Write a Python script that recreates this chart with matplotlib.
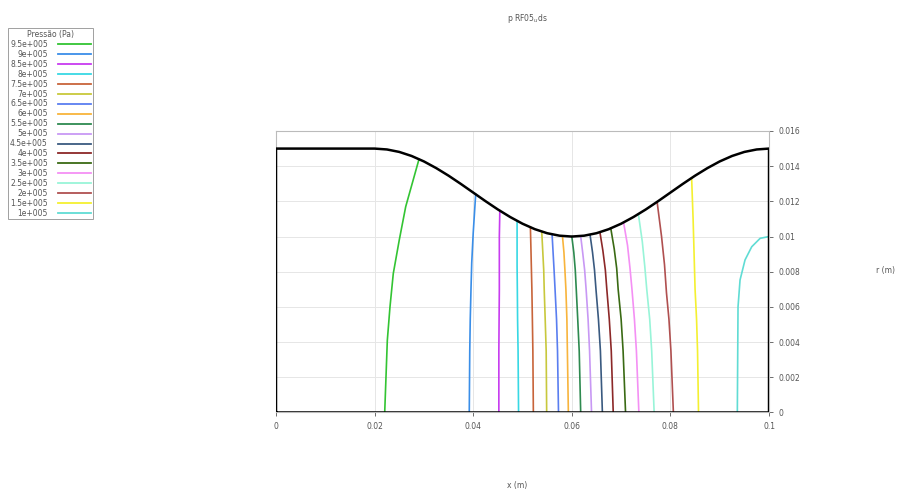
import matplotlib
matplotlib.use("Agg")
import matplotlib.pyplot as plt
from matplotlib.lines import Line2D

# parede do bocal (r em funcao de x)
wall_x = [0.0, 0.02, 0.0225, 0.025, 0.0275, 0.03, 0.0325, 0.035, 0.0375, 0.04,
          0.0425, 0.045, 0.0475, 0.05, 0.0525, 0.055, 0.0575, 0.06,
          0.0625, 0.065, 0.0675, 0.07, 0.0725, 0.075, 0.0775, 0.08,
          0.0825, 0.085, 0.0875, 0.09, 0.0925, 0.095, 0.0975, 0.1]
wall_r = [0.0150, 0.0150, 0.01495, 0.01481, 0.01458, 0.01427, 0.01389, 0.01346, 0.01299, 0.0125,
          0.01201, 0.01154, 0.01111, 0.01073, 0.01042, 0.01019, 0.01005, 0.0100,
          0.01005, 0.01019, 0.01042, 0.01073, 0.01111, 0.01154, 0.01201, 0.0125,
          0.01299, 0.01346, 0.01389, 0.01427, 0.01458, 0.01481, 0.01495, 0.0150]

labels = ["9.5e+005", "9e+005", "8.5e+005", "8e+005", "7.5e+005", "7e+005", "6.5e+005",
          "6e+005", "5.5e+005", "5e+005", "4.5e+005", "4e+005", "3.5e+005", "3e+005",
          "2.5e+005", "2e+005", "1.5e+005", "1e+005"]
colors = ["#33c433", "#3a8ee8", "#c83cf0", "#38d8e4", "#c8643a", "#c8c83c", "#5a7ef0",
          "#f8b43c", "#2e8a50", "#c898f4", "#3a5a80", "#8c2828", "#3a6a14", "#f490f4",
          "#98f4d8", "#b05050", "#f4f030", "#60dcd4"]

# isobaras: pontos (x, r)
iso_x = [
    [0.02205, 0.02258, 0.02312, 0.02379, 0.0250, 0.02631, 0.0290],
    [0.0392, 0.0393, 0.0394, 0.03955, 0.0397, 0.0400, 0.0405],
    [0.0452, 0.0452, 0.04525, 0.0453, 0.0453, 0.0453, 0.0454],
    [0.0492, 0.0491, 0.0490, 0.04895, 0.0489, 0.0489, 0.0489],
    [0.0522, 0.0521, 0.0520, 0.0519, 0.0518, 0.0517, 0.0516],
    [0.0549, 0.0548, 0.0546, 0.0544, 0.0543, 0.0541, 0.0539],
    [0.0573, 0.0571, 0.0569, 0.0566, 0.0564, 0.0562, 0.0560],
    [0.0593, 0.0591, 0.0590, 0.0588, 0.0586, 0.0584, 0.0581],
    [0.0618, 0.0615, 0.0612, 0.0609, 0.0607, 0.0604, 0.0600],
    [0.0640, 0.0636, 0.0633, 0.0629, 0.0626, 0.0622, 0.0618],
    [0.0662, 0.0658, 0.0654, 0.0649, 0.0646, 0.0642, 0.0637],
    [0.0684, 0.0680, 0.0676, 0.0671, 0.0668, 0.0663, 0.0657],
    [0.0709, 0.0704, 0.0700, 0.0694, 0.0691, 0.0686, 0.0679],
    [0.0736, 0.0731, 0.0727, 0.0722, 0.0718, 0.0713, 0.0705],
    [0.0767, 0.0762, 0.0758, 0.0752, 0.0748, 0.0743, 0.0735],
    [0.0806, 0.0801, 0.0797, 0.0792, 0.0788, 0.0782, 0.0773],
    [0.0857, 0.0855, 0.0853, 0.0850, 0.0848, 0.0846, 0.0843],
    [0.09357, 0.09371, 0.09412, 0.09513, 0.09649, 0.0982, 0.1],
]
iso_r = [
    [0.0, 0.0041, 0.0060, 0.0079, 0.0098, 0.0117, 0.01439],
    [0.0, 0.0035, 0.0053, 0.007, 0.0085, 0.0102, 0.0124],
    [0.0, 0.0035, 0.0053, 0.007, 0.0085, 0.0100, 0.01147],
    [0.0, 0.0035, 0.0053, 0.007, 0.0083, 0.0096, 0.01089],
    [0.0, 0.0035, 0.0053, 0.007, 0.0082, 0.0094, 0.01053],
    [0.0, 0.0035, 0.0053, 0.007, 0.0081, 0.0092, 0.01028],
    [0.0, 0.0035, 0.0053, 0.007, 0.0081, 0.0091, 0.01012],
    [0.0, 0.0035, 0.0053, 0.007, 0.0081, 0.0091, 0.01003],
    [0.0, 0.0035, 0.0053, 0.007, 0.0081, 0.0091, 0.0100],
    [0.0, 0.0035, 0.0053, 0.007, 0.0081, 0.0091, 0.01002],
    [0.0, 0.0035, 0.0053, 0.007, 0.0081, 0.0091, 0.0101],
    [0.0, 0.0035, 0.0053, 0.007, 0.0081, 0.0092, 0.01025],
    [0.0, 0.0035, 0.0053, 0.007, 0.0082, 0.0093, 0.01047],
    [0.0, 0.0035, 0.0053, 0.007, 0.0082, 0.0095, 0.0108],
    [0.0, 0.0035, 0.0053, 0.007, 0.0083, 0.0097, 0.01128],
    [0.0, 0.0035, 0.0053, 0.0068, 0.0084, 0.0100, 0.01197],
    [0.0, 0.0035, 0.0053, 0.007, 0.0090, 0.0110, 0.01333],
    [0.0, 0.006, 0.00753, 0.00867, 0.00942, 0.0099, 0.0100],
]

fig = plt.figure(figsize=(9.04, 4.93), dpi=100)
ax = fig.add_axes([0.3053, 0.1633, 0.5454, 0.571])

for xs, rs, c in zip(iso_x, iso_r, colors):
    ax.plot(xs, rs, color=c, lw=1.2)

# contorno do dominio
ax.plot([0.0] + wall_x + [0.1, 0.0, 0.0], [0.0] + wall_r + [0.0, 0.0, 0.0],
        color="black", lw=1.8, solid_joinstyle="round", zorder=5)

ax.set_xlim(0, 0.1)
ax.set_ylim(0, 0.016)
ax.set_xticks([0, 0.02, 0.04, 0.06, 0.08, 0.1])
ax.set_xticklabels(["0", "0.02", "0.04", "0.06", "0.08", "0.1"])
ax.set_yticks([0, 0.002, 0.004, 0.006, 0.008, 0.01, 0.012, 0.014, 0.016])
ax.set_yticklabels(["0", "0.002", "0.004", "0.006", "0.008", "0.01", "0.012", "0.014", "0.016"])
ax.yaxis.tick_right()
ax.tick_params(labelsize=5.5, colors="#555555", length=3, width=0.6, pad=4)
ax.grid(True, color="#e6e6e6", lw=0.7)
for s in ax.spines.values():
    s.set_color("#bbbbbb")
    s.set_linewidth(0.8)

fig.text(0.583, 0.962, "p RF05$_{u}$ds", fontsize=5.5, color="#555555", ha="center", va="center")
fig.text(0.572, 0.016, "x (m)", fontsize=5.5, color="#555555", ha="center", va="center")
fig.text(0.979, 0.452, "r (m)", fontsize=5.5, color="#555555", ha="center", va="center")

handles = [Line2D([0], [0], color=c, lw=1.3) for c in colors]
leg = fig.legend(handles, labels, title="Pressão (Pa)", loc="upper left",
                 bbox_to_anchor=(0.009, 0.943), fontsize=5.5, title_fontsize=5.5,
                 markerfirst=False, frameon=True, fancybox=False, handlelength=4.4,
                 handleheight=0.6, labelspacing=0.12, borderpad=0.25, handletextpad=1.3,
                 borderaxespad=0)
leg.get_frame().set_edgecolor("#888888")
leg.get_frame().set_linewidth(0.7)
for t in leg.get_texts():
    t.set_color("#555555")
    t.set_ha("right")
leg.get_title().set_color("#555555")

fig.savefig("out.png", dpi=100)
